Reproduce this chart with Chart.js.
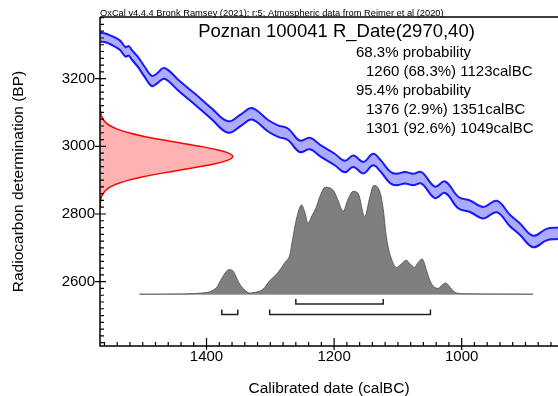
<!DOCTYPE html>
<html>
<head>
<meta charset="utf-8">
<script src="https://cdn.jsdelivr.net/npm/chart.js@4.4.1/dist/chart.umd.min.js"></script>
<style>
  html, body { margin: 0; padding: 0; background: #fff; }
</style>
</head>
<body>
<canvas id="chart" width="558" height="396"></canvas>
<script>
// Calibration curve (IntCal20 band): calendar year BC -> BP, +/- 1 sigma
const calYears = [1567, 1560, 1549, 1536, 1527, 1522, 1517, 1507, 1497, 1486, 1478, 1468, 1460, 1444, 1418,
  1392, 1366, 1345, 1329, 1303, 1288, 1272, 1254, 1238, 1220, 1199, 1183, 1170, 1154, 1139, 1128,
  1112, 1102, 1089, 1076, 1063, 1042, 1026, 1005, 987, 966, 945, 924, 909, 888, 867, 849]
const calBP = [3322, 3321, 3313, 3299, 3279, 3282, 3270, 3248, 3220, 3193, 3200, 3215, 3209, 3180, 3139,
  3096, 3057, 3079, 3096, 3060, 3045, 3035, 3000, 3008, 2985, 2961, 2940, 2956, 2937, 2961, 2944,
  2908, 2902, 2907, 2902, 2907, 2864, 2879, 2833, 2823, 2804, 2822, 2780, 2756, 2719, 2739, 2743]
const calErr = [13, 13, 13, 14, 14, 14, 14, 15, 15, 15, 15, 16, 16, 16, 16,
  16, 17, 17, 17, 17, 17, 17, 17, 17, 17, 17, 17, 17, 17, 17, 17,
  17, 17, 17, 17, 17, 17, 17, 17, 17, 17, 17, 17, 17, 17, 17, 17]

// Radiocarbon measurement R_Date(2970,40): relative probability by BP
const dateBP = [3120, 3110, 3100, 3090, 3080, 3070, 3060, 3050, 3040, 3030, 3020, 3010, 3000, 2990, 2980, 2970,
  2960, 2950, 2940, 2930, 2920, 2910, 2900, 2890, 2880, 2870, 2860, 2850, 2840, 2830, 2820]
const dateProb = [0.001, 0.002, 0.005, 0.011, 0.023, 0.044, 0.079, 0.135, 0.216, 0.325, 0.458, 0.607, 0.755, 0.882, 0.969, 1,
  0.969, 0.882, 0.755, 0.607, 0.458, 0.325, 0.216, 0.135, 0.079, 0.044, 0.023, 0.011, 0.005, 0.002, 0.001]

// Calibrated distribution: relative probability by calendar year BC
const distYears = [1505, 1434, 1416, 1403, 1395, 1384, 1376, 1365, 1360, 1348, 1338, 1331, 1324, 1311, 1301,
  1290, 1277, 1269, 1265, 1259, 1251, 1246, 1241, 1235, 1228, 1222, 1214, 1201, 1194, 1186,
  1178, 1170, 1162, 1152, 1144, 1138, 1128, 1123, 1118, 1111, 1102, 1095, 1087, 1081, 1074,
  1069, 1062, 1055, 1050, 1045, 1037, 1031, 1025, 1016, 1008, 992, 940, 888]
const distProb = [0, 0.003, 0.007, 0.014, 0.023, 0.063, 0.147, 0.226, 0.221, 0.094, 0.028, 0.011, 0.017, 0.048, 0.124,
  0.186, 0.293, 0.371, 0.507, 0.693, 0.822, 0.756, 0.654, 0.719, 0.8, 0.903, 0.984, 0.954, 0.866, 0.763,
  0.876, 0.947, 0.924, 0.714, 0.894, 1, 0.938, 0.783, 0.525, 0.341, 0.247, 0.276, 0.313, 0.281, 0.247,
  0.286, 0.324, 0.217, 0.129, 0.078, 0.053, 0.083, 0.103, 0.048, 0.011, 0.004, 0.002, 0]

// Highest posterior density ranges (calBC)
const range68 = [[1260, 1123]]
const range95 = [[1376, 1351], [1301, 1049]]

const headerText = "OxCal v4.4.4 Bronk Ramsey (2021); r:5; Atmospheric data from Reimer et al (2020)"
const titleText = "Poznan 100041 R_Date(2970,40)"
const summaryLines = [
  ["68.3% probability", 0],
  ["1260 (68.3%) 1123calBC", 1],
  ["95.4% probability", 0],
  ["1376 (2.9%) 1351calBC", 1],
  ["1301 (92.6%) 1049calBC", 1]
]

// axis extents and tick steps
const X_MIN = 849, X_MAX = 1567
const Y_MIN = 2410, Y_MAX = 3382
const MINOR_STEP = 20, MAJOR_STEP = 200

// layout of the overlays (in data units)
const DATE_SPAN = 208       // years the measurement curve reaches at its peak
const DIST_BASE = 2563      // BP level of the distribution baseline
const DIST_HEIGHT = 321     // BP height of the distribution peak
const BRACKET_68 = 2534, BRACKET_95 = 2503, BRACKET_TICK = 15

const FONT = '"Liberation Sans", Arial, sans-serif'

const upper = calYears.map((x, i) => ({ x, y: calBP[i] + calErr[i] }))
const lower = calYears.map((x, i) => ({ x, y: calBP[i] - calErr[i] }))
const dateCurve = dateBP.map((y, i) => ({ x: X_MAX - dateProb[i] * DATE_SPAN, y }))
const dist = distYears.map((x, i) => ({ x, y: DIST_BASE + distProb[i] * DIST_HEIGHT }))
const baseline = [{ x: distYears[0], y: DIST_BASE }, { x: distYears[distYears.length - 1], y: DIST_BASE }]

function bracket([a, b], level) {
  return [
    { x: a, y: level + BRACKET_TICK }, { x: a, y: level },
    { x: b, y: level }, { x: b, y: level + BRACKET_TICK }
  ]
}

const bracketSets = [
  ...range68.map((r) => bracket(r, BRACKET_68)),
  ...range95.map((r) => bracket(r, BRACKET_95))
].map((data) => ({ data, borderColor: "#222", borderWidth: 1.5, tension: 0, fill: false }))

function stepTicks(min, max) {
  const ticks = []
  for (let v = Math.ceil(min / MINOR_STEP) * MINOR_STEP; v <= max; v += MINOR_STEP) ticks.push({ value: v })
  return ticks
}

// axis lines, inward ticks and the text blocks
const oxcalFrame = {
  id: "oxcalFrame",
  afterDraw(chart) {
    const { ctx, chartArea: area, scales } = chart
    ctx.save()
    ctx.strokeStyle = "#000"
    ctx.lineWidth = 1.5
    ctx.beginPath()
    ctx.moveTo(area.left, area.top)
    ctx.lineTo(area.right, area.top)
    ctx.moveTo(area.left, area.top)
    ctx.lineTo(area.left, area.bottom)
    ctx.lineTo(area.right, area.bottom)
    ctx.stroke()

    ctx.lineWidth = 1.2
    ctx.beginPath()
    scales.x.ticks.forEach((t) => {
      const px = scales.x.getPixelForValue(t.value)
      const major = t.value % MAJOR_STEP === 0
      ctx.moveTo(px, area.bottom + (major ? 4 : 0))
      ctx.lineTo(px, area.bottom - (major ? 8 : 4))
    })
    scales.y.ticks.forEach((t) => {
      const py = scales.y.getPixelForValue(t.value)
      const major = t.value % MAJOR_STEP === 0
      ctx.moveTo(area.left - (major ? 5 : 0), py)
      ctx.lineTo(area.left + (major ? 6 : 4), py)
    })
    ctx.stroke()

    ctx.fillStyle = "#000"
    ctx.textBaseline = "alphabetic"
    ctx.textAlign = "left"
    ctx.font = "9.3px " + FONT
    ctx.fillText(headerText, area.left, 15.5)

    ctx.textAlign = "center"
    ctx.font = "18.5px " + FONT
    ctx.fillText(titleText, 336.5, 37)

    ctx.textAlign = "left"
    ctx.font = "15px " + FONT
    summaryLines.forEach(([text, indent], i) => {
      ctx.fillText(text, 356 + indent * 10, 57 + i * 19)
    })
    ctx.restore()
  }
}

new Chart(document.getElementById("chart"), {
  type: "line",
  data: {
    datasets: [
      ...bracketSets,
      { data: upper, borderColor: "#1a1aff", borderWidth: 2, fill: "+1", backgroundColor: "rgba(0,0,255,0.33)", tension: 0.4 },
      { data: lower, borderColor: "#1a1aff", borderWidth: 2, fill: false, tension: 0.4 },
      { data: dateCurve, borderColor: "#ff0000", borderWidth: 1.5, fill: "shape", backgroundColor: "rgba(255,0,0,0.3)", tension: 0.3 },
      { data: dist, borderColor: "#4a4a4a", borderWidth: 0.8, fill: { value: DIST_BASE }, backgroundColor: "#7f7f7f", cubicInterpolationMode: "monotone" },
      { data: baseline, borderColor: "#9a9a9a", borderWidth: 1, fill: false }
    ]
  },
  options: {
    responsive: false,
    animation: false,
    devicePixelRatio: 1,
    layout: { padding: { top: 17, right: 0, left: 0, bottom: 0 } },
    elements: { point: { radius: 0 } },
    plugins: { legend: { display: false }, tooltip: { enabled: false } },
    scales: {
      x: {
        type: "linear",
        reverse: true,
        min: X_MIN,
        max: X_MAX,
        grid: { display: false, drawTicks: false },
        border: { display: false },
        afterBuildTicks: (scale) => { scale.ticks = stepTicks(X_MIN, X_MAX) },
        afterFit: (scale) => { scale.height = 50 },
        ticks: {
          autoSkip: false,
          maxRotation: 0,
          padding: 2,
          color: "#000",
          font: { family: FONT, size: 15 },
          callback: (v) => (v % MAJOR_STEP === 0 ? String(v) : "")
        },
        title: {
          display: true,
          text: "Calibrated date (calBC)",
          color: "#000",
          font: { family: FONT, size: 15.5, lineHeight: 1 },
          padding: { top: 0, bottom: 0 }
        }
      },
      y: {
        type: "linear",
        min: Y_MIN,
        max: Y_MAX,
        grid: { display: false, drawTicks: false },
        border: { display: false },
        afterBuildTicks: (scale) => { scale.ticks = stepTicks(Y_MIN, Y_MAX) },
        afterFit: (scale) => { scale.width = 100 },
        ticks: {
          autoSkip: false,
          padding: 5,
          color: "#000",
          font: { family: FONT, size: 15 },
          callback: (v) => (v % MAJOR_STEP === 0 ? String(v) : "")
        },
        title: {
          display: true,
          text: "Radiocarbon determination (BP)",
          color: "#000",
          font: { family: FONT, size: 15.5 },
          padding: { top: 9, bottom: 0 }
        }
      }
    }
  },
  plugins: [oxcalFrame]
})
</script>
</body>
</html>
